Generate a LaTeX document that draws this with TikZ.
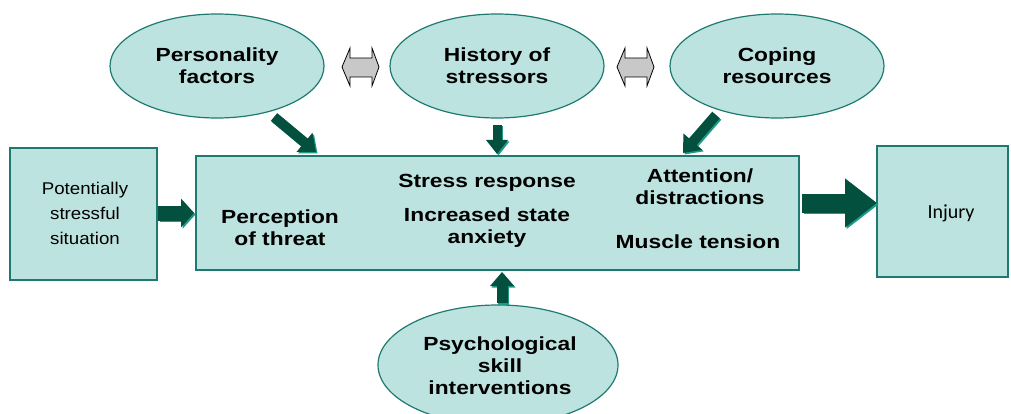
\documentclass[tikz,border=0pt]{standalone}
\usepackage{fontspec}
\setmainfont{Liberation Sans}
\newfontfamily\boldwide[FakeStretch=1.2]{Liberation Sans Bold}
\newfontfamily\regwide[FakeStretch=1.1]{Liberation Sans}
\newfontfamily\calib{Carlito}
\usetikzlibrary{shapes.geometric,arrows.meta}
\definecolor{boxfill}{HTML}{BDE3E0}
\definecolor{boxline}{HTML}{1E7A70}
\definecolor{arrdark}{HTML}{03503F}
\definecolor{arrlight}{HTML}{1F9A86}
\definecolor{dgray}{HTML}{C8C8C8}
\tikzset{
  oval/.style={ellipse, draw=boxline, fill=boxfill, line width=1.2pt, minimum width=214pt, minimum height=104pt, inner sep=0pt},
  sqbox/.style={draw=boxline, fill=boxfill, line width=1.2pt, inner sep=0pt},
  btxt/.style={font=\boldwide\fontsize{19}{22}\selectfont, align=center, text=black, inner sep=0pt},
  rtxt/.style={font=\regwide\fontsize{17}{25}\selectfont, align=center, text=black, inner sep=0pt},
  gap/.style={draw=black, fill=dgray, line width=0.8pt},
}
\newcommand{\blockarr}[5]{% from, to, shaft, headwidth, headlength
  \draw[arrlight, line width=#3pt, -{Triangle[width=#4pt,length=#5pt]}] ([shift={(1.5,1.5)}]#1) -- ([shift={(1.5,1.5)}]#2);
  \draw[arrdark, line width=#3pt, -{Triangle[width=#4pt,length=#5pt]}] (#1) -- (#2);
}
\begin{document}
\begin{tikzpicture}[x=1pt,y=-1pt]
\useasboundingbox (0,0) rectangle (1011,414);
\clip (0,0) rectangle (1011,414);
\fill[white] (0,0) rectangle (1011,414);
% boxes
\node[sqbox, minimum width=147pt, minimum height=132pt] (sit) at (83.5,214) {};
\node[sqbox, minimum width=603pt, minimum height=114pt] (main) at (497.5,213) {};
\node[sqbox, minimum width=131pt, minimum height=131pt] (inj) at (942.5,211.5) {};
\node[rtxt] (sitt) at (85,213) {Potentially\\stressful\\situation};
\node[font=\calib\fontsize{20}{24}\selectfont] (injt) at (951,213) {Injury};
% ellipses
\node[oval] (pers) at (217,66) {};
\node[oval] (hist) at (497,66) {};
\node[oval] (cope) at (777,66) {};
\node[oval, minimum width=240pt, minimum height=120pt] (psy) at (498,365) {};
\node[btxt] (perst) at (217,66) {Personality\\factors};
\node[btxt] (histt) at (497,66) {History of\\stressors};
\node[btxt] (copet) at (777,66) {Coping\\resources};
\node[btxt] (psyt) at (500,366) {Psychological\\skill\\interventions};
% main box texts
\node[btxt] (perc) at (280,228) {Perception\\of threat};
\node[btxt] (stress) at (487,183) {Stress response};
\node[btxt] (anx) at (487,228) {Increased state\\anxiety};
\node[btxt] (att) at (700,187) {Attention/\\distractions};
\node[btxt] (mus) at (698,242) {Muscle tension};
% block arrow endpoints
\coordinate (a1s) at (158,213); \coordinate (a1e) at (194,213);
\coordinate (a2s) at (802,203); \coordinate (a2e) at (877,203);
\coordinate (a3s) at (274,117); \coordinate (a3e) at (316,152);
\coordinate (a4s) at (497,125); \coordinate (a4e) at (497,154);
\coordinate (a5s) at (716,115); \coordinate (a5e) at (683,153);
\coordinate (a6s) at (502,303); \coordinate (a6e) at (502,272);
\blockarr{a1s}{a1e}{15}{28}{13}
\blockarr{a2s}{a2e}{19}{47}{32}
\blockarr{a3s}{a3e}{10}{24}{15}
\blockarr{a4s}{a4e}{9}{21}{14}
\blockarr{a5s}{a5e}{10}{24}{15}
\blockarr{a6s}{a6e}{11}{23}{14}
% gray double arrows
\draw[gap] (342,67) -- (350,48) -- (350,58) -- (372,58) -- (372,48) -- (379,67) -- (372,86) -- (372,77) -- (350,77) -- (350,86) -- cycle;
\draw[gap] (617,67) -- (625,48) -- (625,58) -- (647,58) -- (647,48) -- (654,67) -- (647,86) -- (647,77) -- (625,77) -- (625,86) -- cycle;
\end{tikzpicture}
\end{document}
